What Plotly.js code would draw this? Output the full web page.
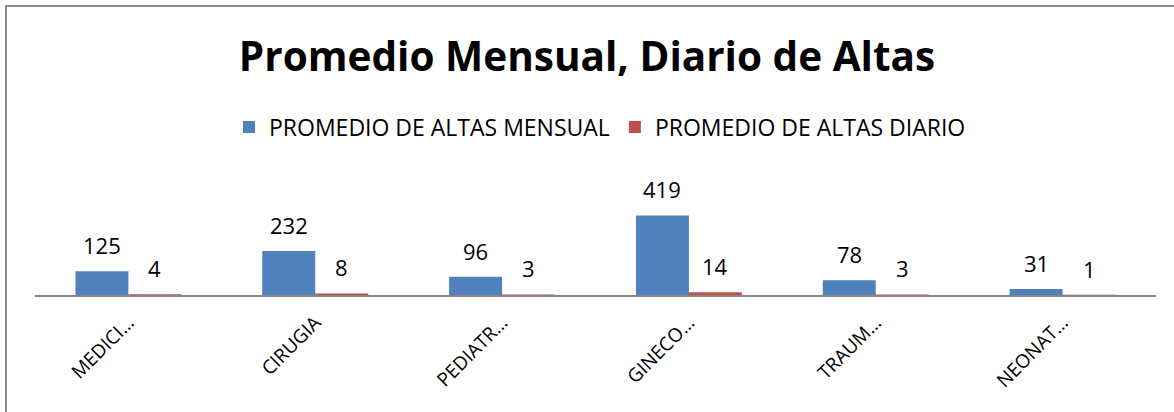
<!DOCTYPE html>
<html>
<head>
<meta charset="utf-8">
<script src="https://cdn.plot.ly/plotly-3.0.1.min.js"></script>
<style>
html,body{margin:0;padding:0;background:#fff;}
#wrap{position:relative;width:1174px;height:412px;overflow:hidden;}
#chart{width:1174px;height:412px;}
#frame{position:absolute;left:5px;top:5px;width:1300px;height:500px;border-left:2px solid #8c8c8c;border-top:2px solid #8c8c8c;pointer-events:none;}
</style>
</head>
<body>
<div id="wrap"><div id="chart"></div><div id="frame"></div></div>
<script>
var categories = ["MEDICI…", "CIRUGIA", "PEDIATR…", "GINECO…", "TRAUM…", "NEONAT…"];
var mensual = [125, 232, 96, 419, 78, 31];
var diario = [4, 8, 3, 14, 3, 1];
var seriesNames = ["PROMEDIO DE ALTAS MENSUAL", "PROMEDIO DE ALTAS DIARIO"];

var FONT = "Open Sans, Noto Sans, sans-serif";
var traces = [
  {type: "bar", name: seriesNames[0], x: categories, y: mensual, marker: {color: "#4F81BD"}, hoverinfo: "y"},
  {type: "bar", name: seriesNames[1], x: categories, y: diario, marker: {color: "#C0504D"}, hoverinfo: "y"}
];

var annotations = [];
function addLabels(vals, shift) {
  for (var i = 0; i < categories.length; i++) {
    annotations.push({
      x: categories[i], y: vals[i], xref: "x", yref: "y",
      text: String(vals[i]), showarrow: false,
      xshift: shift, yshift: 26, yanchor: "middle", xanchor: "center",
      font: {family: FONT, size: 22, color: "#000"}
    });
  }
}
addLabels(mensual, -26.5);
addLabels(diario, 26.5);

var layout = {
  width: 1174, height: 412,
  margin: {l: 35, r: 18, t: 162, b: 117, pad: 0, autoexpand: false},
  paper_bgcolor: "#fff", plot_bgcolor: "#fff",
  title: {text: "<b>Promedio Mensual, Diario de Altas</b>", font: {family: FONT, size: 40.5, color: "#000"}, x: 0.5, xanchor: "center", y: 1 - 57/412, yanchor: "middle", yref: "container", automargin: false},
  showlegend: true,
  legend: {orientation: "h", x: (600 - 35) / 1121, xanchor: "center", y: 1 - 127/412, yanchor: "middle", yref: "container",
           font: {family: FONT, size: 23, color: "#000"}, traceorder: "normal"},
  barmode: "group", bargap: 0.433, bargroupgap: 0,
  xaxis: {type: "category", tickangle: -45, tickfont: {family: FONT, size: 19, color: "#000"}, automargin: false,
          ticklabelstandoff: 7,
          showline: true, linecolor: "#868686", linewidth: 2, ticks: "", showgrid: false, zeroline: false, fixedrange: true},
  yaxis: {range: [0, 700], visible: false, showgrid: false, zeroline: false, fixedrange: true, automargin: false},
  annotations: annotations
};
Plotly.newPlot("chart", traces, layout, {displayModeBar: false, staticPlot: true});
</script>
</body>
</html>
